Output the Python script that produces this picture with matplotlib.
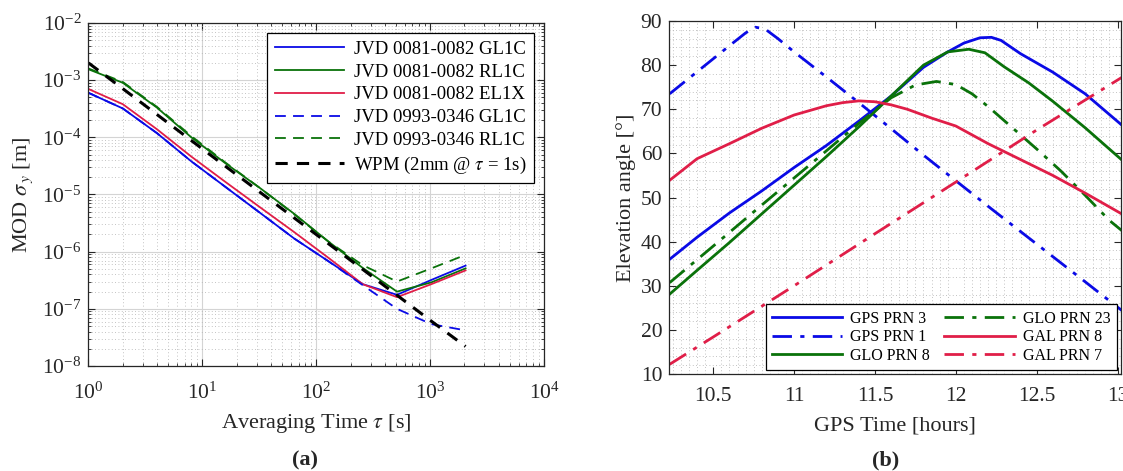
#!/usr/bin/env python3
"""
Two-panel figure: (a) MOD sigma_y of JVD baselines vs averaging time,
(b) satellite elevation angles vs GPS time.
"""

import matplotlib
matplotlib.use("Agg")
import matplotlib.pyplot as plt
from matplotlib.ticker import LogLocator, MultipleLocator, NullFormatter

plt.rcParams["font.family"] = ["Liberation Serif", "DejaVu Serif"]
plt.rcParams["mathtext.fontset"] = "stix"

TEXT = "#262626"
BLUE = "#0a0ae6"
GREEN = "#0a720a"
RED = "#e01e48"

# ---- panel (a) data -------------------------------------------------------
tau = [1, 2, 4, 8, 16, 32, 64, 128, 256, 512, 1024, 2048]
gl1c_0081 = [6.0e-4, 3.2e-4, 1.18e-4, 3.8e-5, 1.35e-5, 4.8e-6, 1.7e-6,
             6.8e-7, 2.7e-7, 1.76e-7, 3.2e-7, 5.7e-7]
rl1c_0081 = [1.55e-3, 9.0e-4, 3.3e-4, 1.0e-4, 3.5e-5, 1.3e-5, 4.6e-6,
             1.5e-6, 5.2e-7, 2.0e-7, 2.9e-7, 5.1e-7]
el1x_0081 = [7.0e-4, 3.8e-4, 1.38e-4, 4.6e-5, 1.65e-5, 6.0e-6, 2.2e-6,
             7.8e-7, 2.7e-7, 1.6e-7, 2.7e-7, 4.7e-7]
gl1c_0993 = [6.0e-4, 3.2e-4, 1.18e-4, 3.8e-5, 1.35e-5, 4.8e-6, 1.7e-6,
             6.8e-7, 2.6e-7, 1.0e-7, 5.4e-8, 4.2e-8]
rl1c_0993 = [1.6e-3, 9.3e-4, 3.4e-4, 1.05e-4, 3.6e-5, 1.3e-5, 4.5e-6,
             1.5e-6, 5.8e-7, 3.0e-7, 5.1e-7, 8.8e-7]
wpm = [2.0e-3, 7.1e-4, 2.5e-4, 8.8e-5, 3.1e-5, 1.1e-5, 3.9e-6,
       1.38e-6, 4.9e-7, 1.73e-7, 6.1e-8, 2.2e-8]

# ---- panel (b) data -------------------------------------------------------
t_gps3 = [10.23, 10.4, 10.6, 10.8, 11.0, 11.2, 11.4, 11.6, 11.8, 11.95,
          12.05, 12.15, 12.22, 12.28, 12.4, 12.6, 12.8, 13.03]
el_gps3 = [36.0, 41.0, 46.5, 51.5, 56.8, 61.8, 67.3, 73.0, 79.5, 83.0,
           85.0, 86.2, 86.3, 85.6, 82.6, 78.4, 73.5, 66.3]

t_gps1 = [10.23, 10.4, 10.6, 10.7, 10.76, 10.82, 10.9, 11.0, 11.2, 11.4,
          11.6, 11.8, 12.0, 12.2, 12.4, 12.6, 12.8, 13.03]
el_gps1 = [73.5, 78.5, 84.4, 87.3, 88.6, 88.2, 86.0, 83.0, 77.3, 71.5,
           65.6, 59.6, 53.8, 48.0, 42.3, 36.6, 30.9, 24.3]

t_glo8 = [10.23, 10.4, 10.6, 10.8, 11.0, 11.2, 11.4, 11.6, 11.8, 11.95,
          12.08, 12.18, 12.3, 12.45, 12.6, 12.8, 13.03]
el_glo8 = [28.1, 33.5, 39.8, 46.3, 52.8, 59.3, 66.0, 73.0, 80.0, 83.0,
           83.6, 82.8, 79.6, 76.0, 71.8, 65.8, 58.4]

t_glo23 = [10.23, 10.5, 10.8, 11.1, 11.4, 11.6, 11.75, 11.88, 12.0, 12.1,
           12.2, 12.35, 12.5, 12.65, 12.8, 12.95, 13.03]
el_glo23 = [30.7, 39.0, 48.3, 57.5, 66.8, 72.6, 75.5, 76.3, 75.6, 73.5,
            70.6, 65.8, 61.0, 56.0, 50.5, 44.8, 42.4]

t_gal8 = [10.23, 10.4, 10.6, 10.8, 11.0, 11.2, 11.3, 11.4, 11.5, 11.6,
          11.7, 11.85, 12.0, 12.2, 12.4, 12.6, 12.8, 13.03]
el_gal8 = [53.9, 58.8, 62.2, 65.7, 68.7, 70.8, 71.5, 71.9, 71.7, 71.0,
           70.0, 68.0, 66.2, 62.2, 58.6, 55.0, 51.0, 46.2]

t_gal7 = [10.23, 10.5, 11.0, 11.5, 12.0, 12.5, 13.03]
el_gal7 = [12.2, 18.4, 30.0, 41.8, 53.5, 65.3, 77.3]


def style_axes(ax, xpad):
    ax.tick_params(which="both", direction="in", top=True, right=True,
                   colors=TEXT, labelcolor=TEXT, labelsize=15.5)
    ax.tick_params(which="major", length=5)
    ax.tick_params(which="minor", length=2.5)
    ax.tick_params(axis="x", which="major", pad=xpad)
    ax.tick_params(axis="y", which="major", pad=5)
    for sp in ax.spines.values():
        sp.set_color(TEXT)
        sp.set_linewidth(0.9)


def panel_a(ax):
    dash = (0, (6, 4))
    ax.plot(tau, gl1c_0081, color=BLUE, lw=1.3, label="JVD 0081-0082 GL1C")
    ax.plot(tau, rl1c_0081, color=GREEN, lw=1.3, label="JVD 0081-0082 RL1C")
    ax.plot(tau, el1x_0081, color=RED, lw=1.3, label="JVD 0081-0082 EL1X")
    ax.plot(tau, gl1c_0993, color=BLUE, lw=1.3, ls=dash, label="JVD 0993-0346 GL1C")
    ax.plot(tau, rl1c_0993, color=GREEN, lw=1.3, ls=dash, label="JVD 0993-0346 RL1C")
    ax.plot(tau, wpm, color="black", lw=2.2, ls=(0, (4, 3)),
            label=r"WPM (2mm @ $\tau$ = 1s)")
    ax.set_xscale("log")
    ax.set_yscale("log")
    ax.set_xlim(1, 1e4)
    ax.set_ylim(1e-8, 1e-2)
    ax.xaxis.set_minor_locator(LogLocator(subs=range(2, 10), numticks=20))
    ax.yaxis.set_minor_locator(LogLocator(subs=range(2, 10), numticks=20))
    ax.xaxis.set_minor_formatter(NullFormatter())
    ax.yaxis.set_minor_formatter(NullFormatter())
    ax.grid(which="major", color="#d4d4d4", lw=0.8)
    ax.grid(which="minor", color="#b0b0b0", lw=0.6, ls=(0, (1, 3)))
    ax.set_axisbelow(True)
    style_axes(ax, xpad=12)
    ax.set_xlabel(r"Averaging Time $\tau$ [s]", fontsize=16, color=TEXT,
                  labelpad=6)
    ax.set_ylabel(r"MOD $\sigma_{\,y}$ [m]", fontsize=16, color=TEXT,
                  labelpad=5)
    leg = ax.legend(loc="upper right", fontsize=13.5, handlelength=3.7,
                    fancybox=False, edgecolor="black", framealpha=1,
                    borderaxespad=0.55, labelspacing=0.3, handletextpad=0.5)
    leg.get_frame().set_linewidth(0.9)


def panel_b(ax):
    dd = (0, (7, 3, 1.5, 3))
    ax.plot(t_gps3, el_gps3, color=BLUE, lw=2, label="GPS PRN 3")
    ax.plot(t_gps1, el_gps1, color=BLUE, lw=2, ls=dd, label="GPS PRN 1")
    ax.plot(t_glo8, el_glo8, color=GREEN, lw=2, label="GLO PRN 8")
    ax.plot(t_glo23, el_glo23, color=GREEN, lw=2, ls=dd, label="GLO PRN 23")
    ax.plot(t_gal8, el_gal8, color=RED, lw=2, label="GAL PRN 8")
    ax.plot(t_gal7, el_gal7, color=RED, lw=2, ls=dd, label="GAL PRN 7")
    ax.set_xlim(10.228, 13.02)
    ax.set_ylim(10, 90)
    ax.set_xticks([10.5, 11, 11.5, 12, 12.5, 13])
    ax.set_xticklabels(["10.5", "11", "11.5", "12", "12.5", "13"])
    ax.set_yticks(range(10, 91, 10))
    ax.xaxis.set_minor_locator(MultipleLocator(0.05))
    ax.yaxis.set_minor_locator(MultipleLocator(2))
    ax.grid(which="minor", color="#b0b0b0", lw=0.6, ls=(0, (1, 3)))
    ax.set_axisbelow(True)
    style_axes(ax, xpad=9)
    ax.tick_params(which="minor", length=0)
    ax.set_xlabel("GPS Time [hours]", fontsize=16, color=TEXT, labelpad=8)
    ax.set_ylabel("Elevation angle [°]", fontsize=16, color=TEXT, labelpad=3)
    leg = ax.legend(loc="lower right", ncol=2, fontsize=11.5, handlelength=4.4,
                    fancybox=False, edgecolor="black", framealpha=1,
                    borderaxespad=0.25, labelspacing=0.15, handletextpad=0.5,
                    columnspacing=0.9)
    leg.get_frame().set_linewidth(0.9)


def main():
    fig = plt.figure(figsize=(11.23, 4.71), dpi=100)
    ax_a = fig.add_axes([0.0788, 0.2229, 0.4056, 0.7283])
    ax_b = fig.add_axes([0.596, 0.2059, 0.402, 0.7495])
    panel_a(ax_a)
    panel_b(ax_b)
    fig.text(0.2716, 0.023, "(a)", ha="center", va="center",
             fontsize=16, fontweight="bold", color=TEXT)
    fig.text(0.789, 0.023, "(b)", ha="center", va="center",
             fontsize=16, fontweight="bold", color=TEXT)
    fig.savefig("out.png", dpi=100)
    plt.close(fig)


if __name__ == "__main__":
    main()
